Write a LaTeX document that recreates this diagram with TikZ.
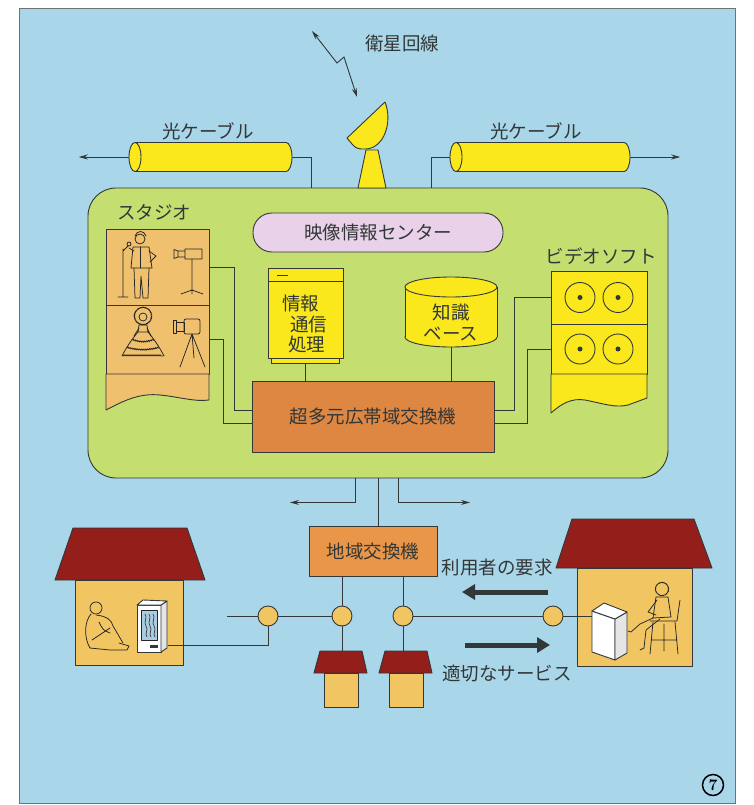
\documentclass[tikz,border=0pt]{standalone}
\usepackage{fontspec}
\newfontfamily\jpfont{Noto Sans CJK JP}
\usetikzlibrary{arrows.meta,calc,positioning,decorations.pathmorphing}
\definecolor{skycolor}{RGB}{170,214,234}
\definecolor{hubcolor}{RGB}{197,222,112}
\definecolor{yelcolor}{RGB}{250,232,28}
\definecolor{swcolor}{RGB}{222,135,66}
\definecolor{localcolor}{RGB}{234,150,72}
\definecolor{roofcolor}{RGB}{148,30,26}
\definecolor{wallcolor}{RGB}{241,197,98}
\definecolor{studiocolor}{RGB}{239,192,110}
\definecolor{pillcolor}{RGB}{233,210,233}
\definecolor{inkcolor}{RGB}{50,55,55}
\definecolor{screencolor}{RGB}{170,205,225}

\tikzset{
  jp/.style={font=\jpfont\fontsize{18.5}{21}\selectfont, text=inkcolor},
  wire/.style={draw=inkcolor, line width=0.9pt},
  tap/.style={wire, -{Stealth[length=9pt,width=5pt]}},
  fatarrow/.style={draw=inkcolor, line width=5pt, -{Triangle[length=13pt,width=15pt]}},
  outline/.style={draw=inkcolor, line width=0.9pt, line join=round},
  unit/.style={outline, inner sep=0pt, jp},
  joint/.style={circle, outline, fill=wallcolor, minimum size=20pt, inner sep=0pt},
  sketch/.style={draw=black!85, line width=0.75pt, line join=round, line cap=round},
  frill/.style={sketch, decorate, decoration={bumps, segment length=4pt, amplitude=1.3pt}},
}

\begin{document}
\begin{tikzpicture}[x=1pt,y=-1pt]
  \useasboundingbox (0,0) rectangle (753,805);
  \fill[white] (0,0) rectangle (753,805);
  \draw[draw=inkcolor!70, line width=1pt, fill=skycolor] (19,9) rectangle (735,803);

  % centre block
  \node[outline, fill=hubcolor, rounded corners=28pt, minimum width=580pt, minimum height=290pt] (hub) at (378,333) {};

  % satellite dish
  \draw[outline, fill=yelcolor] (366,150) -- (378,150) -- (386,188) -- (358,188) -- cycle;
  \draw[outline, fill=yelcolor] (347,138) -- (385,102) .. controls (393,122) and (384,149) .. (365,149) .. controls (356,149) .. cycle;
  \coordinate (skyA) at (312,31);
  \coordinate (skyB) at (357,97);
  \draw[wire, {Stealth[length=9pt,width=5pt]}-{Stealth[length=9pt,width=5pt]}] (skyA) -- (337,63) -- (344,57) -- (skyB);
  \node[jp] (sat) at (402,43) {衛星回線};

  % optical cables, both with the open face on the left
  \foreach \cx/\w/\n in {210.5/163/L, 540/180/R} {
    \draw[outline, fill=yelcolor] (\cx+\w/2-6,157) ellipse [x radius=6, y radius=14.5];
    \fill[yelcolor] (\cx-\w/2+6,142.5) rectangle (\cx+\w/2-6,171.5);
    \draw[wire] (\cx-\w/2+6,142.5) -- (\cx+\w/2-6,142.5) (\cx-\w/2+6,171.5) -- (\cx+\w/2-6,171.5);
    \draw[outline, fill=yelcolor] (\cx-\w/2+6,157) ellipse [x radius=6, y radius=14.5];
    \node[minimum width=\w pt, minimum height=29pt, inner sep=0pt] (cab\n) at (\cx,157) {};
  }
  \node[jp] at (208,131) {光ケーブル};
  \node[jp] at (536,131) {光ケーブル};
  \draw[tap] (cabL.west) -- ++(-50,0);
  \draw[tap] (cabR.east) -- ++(50,0);
  \draw[wire] (cabL.east) -| ([xshift=-67pt]hub.north);
  \draw[wire] (cabR.west) -| ([xshift=53pt]hub.north);

  % studio
  \node[jp] at (154,212) {スタジオ};
  \node[outline, fill=studiocolor, minimum width=103pt, minimum height=76pt, inner sep=0pt] (stA) at (157.5,267) {};
  \node[outline, fill=studiocolor, minimum width=103pt, minimum height=69pt, inner sep=0pt] (stB) at (157.5,339.5) {};
  \draw[outline, fill=studiocolor] (106,374) -- (106,410) .. controls (125,400) and (140,393) .. (160,395)
    .. controls (180,397) and (195,402) .. (209,400) -- (209,374) -- cycle;
  % singer and microphone
  \draw[sketch] (123,249) -- (123,297) (118,297) -- (128,297) (123,251) -- (128,246);
  \draw[sketch] (129,244) circle (2);
  \draw[sketch] (140,239) circle (5);
  \draw[sketch] (135,236) .. controls (137,230) and (144,230) .. (146,236);
  \draw[sketch] (133,247) -- (149,247) -- (152,268) -- (131,268) -- cycle;
  \draw[sketch] (140,247) -- (140,268);
  \draw[sketch] (134,251) -- (129,248) (149,251) -- (156,256) -- (150,262);
  \draw[sketch] (134,268) -- (135,298) -- (140,298) -- (141,276) -- (143,298) -- (148,298) -- (149,268);
  % camera on stand
  \draw[sketch] (185,249) rectangle (202,259) (178,251) rectangle (185,257) (174,249.5) -- (178,251) (174,258.5) -- (178,257) (174,249.5) -- (174,258.5);
  \draw[sketch] (192,259) -- (192,290) (192,290) -- (181,294) (192,290) -- (203,294) (192,290) -- (192,294);
  % lady in a gown
  \draw[sketch, decorate, decoration={bumps, segment length=3pt, amplitude=1pt}] (143,316) circle (8);
  \draw[sketch] (143,317) circle (4);
  \draw[sketch] (139,325) -- (147,325) -- (148,332) -- (138,332) -- cycle;
  \draw[sketch] (138,332) .. controls (133,338) and (127,346) .. (122,356);
  \draw[sketch] (148,332) .. controls (153,338) and (159,346) .. (164,356);
  \draw[frill] (123,356) -- (163,356);
  \draw[frill] (127,348) .. controls (138,351) and (148,351) .. (159,348);
  \draw[frill] (132,340) .. controls (140,343) and (146,343) .. (154,340);
  \draw[sketch] (139,328) -- (134,336) (147,328) -- (151,336);
  % camera on tripod
  \draw[sketch, rounded corners=2pt] (184,319) rectangle (200,334);
  \draw[sketch] (176,322) rectangle (184,331) (173,320) rectangle (176,333);
  \draw[sketch] (192,334) -- (180,367) (192,334) -- (205,367) (192,334) -- (194,358);

  % video centre banner
  \node[unit, fill=pillcolor, rounded corners=19pt, minimum width=250pt, minimum height=39pt] (vcenter) at (378,232.5) {映像情報センター};

  % information processing unit
  \node[outline, fill=yelcolor, minimum width=75pt, minimum height=90pt, inner sep=0pt] (info) at (305.5,313) {};
  \node[outline, fill=yelcolor, minimum width=68pt, minimum height=5pt, inner sep=0pt, below=0pt of info] (infobase) {};
  \draw[wire] ([yshift=-14pt]info.north west) -- ([yshift=-14pt]info.north east);
  \draw[wire] (277,275) -- (288,275);
  \node[jp, anchor=west, inner sep=0pt] at (282,303) {情報};
  \node[jp, anchor=west, inner sep=0pt] at (290,324) {通信};
  \node[jp, anchor=west, inner sep=0pt] at (288,344) {処理};

  % knowledge base
  \draw[outline, fill=yelcolor] (451,337) ellipse [x radius=46, y radius=10];
  \fill[yelcolor] (405,287) rectangle (497,337);
  \draw[wire] (405,287) -- (405,337) (497,287) -- (497,337);
  \draw[outline, fill=yelcolor] (451,287) ellipse [x radius=46, y radius=10];
  \node[jp, minimum width=92pt, minimum height=50pt, align=center, inner sep=0pt] (kb) at (451,322) {知識\\ベース};

  % video software library
  \node[jp] at (601,256) {ビデオソフト};
  \node[outline, fill=yelcolor, minimum width=96pt, minimum height=53pt, inner sep=0pt] (vsA) at (599,297.5) {};
  \node[outline, fill=yelcolor, minimum width=96pt, minimum height=50pt, inner sep=0pt] (vsB) at (599,349) {};
  \draw[outline, fill=yelcolor] (551,374) -- (551,413) .. controls (562,403) and (572,398) .. (585,400)
    .. controls (605,404) and (615,408) .. (628,405) .. controls (638,402) .. (647,398) -- (647,374) -- cycle;
  \foreach \r in {vsA,vsB}
    \foreach \dx in {-19,19} {
      \draw[wire] ($(\r)+(\dx,0)$) circle (15);
      \fill[inkcolor] ($(\r)+(\dx,0)$) circle (2.5);
    }

  % broadband switch
  \node[unit, fill=swcolor, minimum width=242pt, minimum height=71pt] (switch) at (373,416.5) {超多元広帯域交換機};
  \draw[wire] (infobase.south) -- (infobase.south |- switch.north);
  \draw[wire] (kb.south) -- (kb.south |- switch.north);
  \draw[wire] (stA.east) -- ++(25,0) |- ([yshift=6.5pt]switch.west);
  \draw[wire] (stB.east) -- ++(14,0) |- ([yshift=-6.5pt]switch.west);
  \draw[wire] (vsA.west) -- ++(-36,0) |- ([yshift=6.5pt]switch.east);
  \draw[wire] (vsB.west) -- ++(-23,0) |- ([yshift=-6.5pt]switch.east);

  % outgoing lines and local exchange
  \draw[tap] ([xshift=-23pt]hub.south) -- ++(0,24) -- ++(-65,0);
  \draw[tap] ([xshift=20pt]hub.south) -- ++(0,24) -- ++(72,0);
  \node[unit, fill=localcolor, minimum width=128pt, minimum height=50pt] (local) at (373,551) {地域交換機};
  \draw[wire] (hub.south) -- (hub.south |- local.north);

  % houses
  \draw[outline, fill=roofcolor] (73,528) -- (187,528) -- (205,580) -- (55,580) -- cycle;
  \draw[outline, fill=wallcolor] (75,580) rectangle (183,665);
  \draw[outline, fill=roofcolor] (572,519) -- (694,519) -- (712,568) -- (556,568) -- cycle;
  \draw[outline, fill=wallcolor] (577,568) rectangle (692,666);
  \foreach \n/\x in {B/341,C/406} {
    \draw[outline, fill=roofcolor] (\x-21,651) -- (\x+21,651) -- (\x+26,673) -- (\x-27,673) -- cycle;
    \draw[outline, fill=wallcolor] (\x-17,673) rectangle (\x+17,707);
    \coordinate (roof\n) at (\x,651);
  }

  % viewer with a TV set
  \draw[outline, fill=white] (137,605) rectangle (161,652);
  \draw[outline, fill=white!90!black] (161,605) -- (167,601) -- (167,648) -- (161,652) -- cycle;
  \draw[outline, fill=white] (137,605) -- (143,600) -- (167,601) -- (161,605) -- cycle;
  \draw[sketch, fill=screencolor] (141,610) rectangle (157,640);
  \foreach \sx in {145,149,153}
    \draw[sketch, line width=0.6pt] (\sx,614) .. controls (\sx+3,618) and (\sx-2,622) .. (\sx+1,626) .. controls (\sx+4,630) and (\sx-1,634) .. (\sx+2,637);
  \fill[inkcolor] (150,645) rectangle (158,648);
  \coordinate (tvL) at (168,645);
  \draw[sketch] (96,608) circle (6);
  \draw[sketch] (91,614) .. controls (84,622) and (84,638) .. (90,648);
  \draw[sketch] (90,648) -- (110,650) -- (127,650) -- (129,646) -- (119,643);
  \draw[sketch] (96,615) .. controls (106,616) and (112,620) .. (113,626) -- (123,643);
  \draw[sketch] (92,640) -- (110,628);
  \draw[sketch] (99,622) .. controls (103,630) .. (110,633);

  % viewer with a terminal
  \draw[outline, fill=white] (592,611) -- (615,619) -- (615,660) -- (592,652) -- cycle;
  \draw[outline, fill=white!90!black] (615,619) -- (627,612) -- (627,653) -- (615,660) -- cycle;
  \draw[outline, fill=white] (592,611) -- (604,603) -- (627,612) -- (615,619) -- cycle;
  \coordinate (tvR) at (592,616);
  \draw[sketch, decorate, decoration={bumps, segment length=3pt, amplitude=0.8pt}] (662,589) circle (6);
  \draw[sketch] (656,597) -- (668,597) -- (671,617) -- (653,618) -- cycle;
  \draw[sketch] (657,600) -- (648,612) -- (656,615);
  \draw[sketch] (653,618) -- (640,624) -- (631,632) -- (628,631);
  \draw[sketch] (660,619) -- (646,630) -- (644,648) -- (640,650);
  \draw[sketch] (650,621) -- (677,621) (677,621) -- (680,600);
  \draw[sketch] (653,622) -- (650,654) (675,622) -- (678,654) (664,624) -- (664,651) (652,640) -- (677,640);

  % junctions and local lines
  \node[joint] (jA) at (268,616) {};
  \node[joint] (jB) at (342,616) {};
  \node[joint] (jC) at (403,616) {};
  \node[joint] (jD) at (553,616) {};
  \coordinate (feed) at (227,616);
  \draw[wire] (local.south -| jB) -- (jB);
  \draw[wire] (local.south -| jC) -- (jC);
  \draw[wire] (feed) -- (jA) -- (jB);
  \draw[wire] (jC) -- (jD) -- (tvR);
  \draw[wire] (jA) |- (tvL);
  \draw[wire] (jB) -- (jB |- roofB);
  \draw[wire] (jC) -- (jC |- roofC);

  % request and service flows
  \node[jp] (req) at (497,568) {利用者の要求};
  \node[jp] (svc) at (507,673) {適切なサービス};
  \coordinate (reqA) at (548,592);
  \coordinate (reqB) at (462,592);
  \coordinate (svcA) at (465,645);
  \coordinate (svcB) at (550,645);
  \draw[fatarrow] (reqA) -- (reqB);
  \draw[fatarrow] (svcA) -- (svcB);

  \node[circle, draw=black, line width=1.5pt, inner sep=0pt, minimum size=21pt, font=\bfseries\fontsize{16}{16}\selectfont] (fignum) at (713,785) {7};
\end{tikzpicture}
\end{document}
